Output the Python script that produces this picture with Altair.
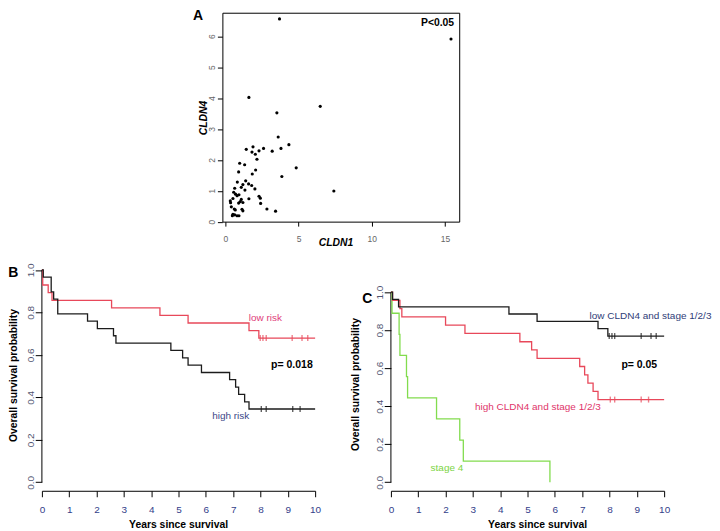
import altair as alt
import pandas as pd

FONT = "Liberation Sans"
BLACK = "#1c1c1c"
RED = "#e8485a"
GREEN = "#82dc4e"
XLAB = "#33408a"
YLAB = "#4f5470"

# ---------------- Panel A: scatter ----------------
cldn1 = [3.70, 15.41, 1.61, 6.48, 3.52, 3.61, 1.43, 1.89, 2.61, 1.82, 2.05, 2.30, 3.20, 3.80, 4.34,
         2.16, 0.98, 1.32, 4.84, 0.91, 2.07, 1.84, 3.86, 0.82, 1.39, 1.59, 1.20, 1.80, 1.09, 0.64,
         1.34, 2.02, 7.41, 0.57, 0.70, 0.93, 0.80, 0.52, 1.61, 2.30, 2.39, 0.34, 0.36, 0.91, 1.02,
         1.20, 2.41, 1.09, 0.41, 0.61, 0.68, 1.14, 1.20, 2.84, 3.43, 0.52, 0.48, 0.64, 0.80, 0.93]
cldn4 = [6.56, 5.91, 4.02, 3.73, 3.52, 2.74, 2.34, 2.42, 2.37, 2.25, 2.18, 2.29, 2.28, 2.37, 2.49,
         2.02, 1.89, 1.84, 1.74, 1.61, 1.67, 1.54, 1.46, 1.28, 1.32, 1.22, 1.20, 1.17, 1.11, 1.08,
         1.02, 1.06, 0.99, 0.95, 0.89, 0.87, 0.84, 0.75, 0.74, 0.82, 0.76, 0.67, 0.61, 0.60, 0.65,
         0.62, 0.59, 0.72, 0.48, 0.41, 0.38, 0.40, 0.35, 0.41, 0.34, 0.24, 0.19, 0.22, 0.19, 0.19]
a_note_text = ["P<0.05"]
a_note_x = [14.49]
a_note_y = [6.43]

# ---------------- Panel B: KM by risk ----------------
b_low_t = [0, 0.03, 0.23, 0.37, 2.55, 4.32, 5.35, 7.58, 7.94, 10]
b_low_s = [1.0, 0.929, 0.893, 0.857, 0.821, 0.786, 0.750, 0.714, 0.679, 0.679]
b_low_cens = [7.99, 8.09, 8.21, 9.16, 9.52, 9.73]
b_high_t = [0, 0.05, 0.34, 0.43, 0.58, 1.67, 2.03, 2.62, 2.71, 4.72, 5.15, 5.35, 5.84, 6.87,
            7.09, 7.20, 7.42, 7.58, 10]
b_high_s = [1.0, 0.966, 0.897, 0.862, 0.793, 0.759, 0.724, 0.690, 0.655, 0.621, 0.586, 0.552,
            0.517, 0.483, 0.448, 0.414, 0.379, 0.345, 0.345]
b_high_cens = [8.03, 8.21, 9.18, 9.45]
b_note_text = ["low risk", "high risk", "p= 0.018"]
b_note_t = [8.18, 6.91, 9.15]
b_note_s = [0.772, 0.313, 0.551]
b_note_col = ["#e0407a", "#3b4688", "#000000"]
b_note_bold = [0, 0, 1]

# ---------------- Panel C: KM by CLDN4 / stage ----------------
c_low_t = [0, 0.06, 0.28, 4.32, 5.35, 7.58, 7.94, 10]
c_low_s = [1.0, 0.962, 0.923, 0.885, 0.846, 0.808, 0.769, 0.769]
c_low_cens = [7.99, 8.09, 8.19, 9.16, 9.52, 9.71]
c_high_t = [0, 0.06, 0.33, 0.40, 2.00, 2.71, 4.72, 5.15, 5.35, 6.91, 7.09, 7.21, 7.40, 7.58, 10]
c_high_s = [1.0, 0.957, 0.913, 0.870, 0.826, 0.783, 0.739, 0.696, 0.652, 0.609, 0.565, 0.522,
            0.478, 0.435, 0.435]
c_high_cens = [8.03, 8.19, 9.16, 9.43]
c_st4_t = [0, 0.04, 0.30, 0.33, 0.57, 0.61, 1.67, 2.52, 2.65, 5.82]
c_st4_s = [1.0, 0.889, 0.778, 0.667, 0.556, 0.444, 0.333, 0.222, 0.111, 0.0]
c_note_text = ["low CLDN4 and stage 1/2/3", "high CLDN4 and stage 1/2/3", "stage 4", "p= 0.05"]
c_note_t = [9.50, 5.38, 2.05, 9.09]
c_note_s = [0.874, 0.397, 0.073, 0.615]
c_note_col = ["#2f3d78", "#e0356a", "#7cd444", "#000000"]
c_note_bold = [0, 0, 0, 1]


def steps(name, t, s):
    return pd.DataFrame({"t": t, "s": s, "grp": name, "i": list(range(len(t)))})


def cens(name, t, level):
    return pd.DataFrame({"t": t, "s": [level] * len(t), "grp": name})


# ---------------- build panel A ----------------
df_a = pd.DataFrame({"cldn1": cldn1, "cldn4": cldn4})
df_a_note = pd.DataFrame({"label": a_note_text, "cldn1": a_note_x, "cldn4": a_note_y})
ax_s = alt.Scale(domain=[-0.2, 15.97], nice=False, zero=False)
ay_s = alt.Scale(domain=[0, 6.76], nice=False, zero=False)
ax_ax = alt.Axis(values=[0, 5, 10, 15], format="d", title="CLDN1", domain=False,
                 tickSize=4.5, tickColor="black", labelPadding=8.4, labelFontSize=8.5,
                 labelColor="#666666", labelFlush=False, labelFont=FONT,
                 titleFont=FONT, titleFontSize=10.4, titleFontWeight="bold",
                 titleFontStyle="italic", titleColor="black", titleX=113.5, titleY=24.2,
                 titleAlign="center", titleBaseline="alphabetic", grid=False)
ay_ax = alt.Axis(values=[0, 1, 2, 3, 4, 5, 6], format="d", title="CLDN4", domain=False,
                 tickSize=5, tickColor="black", labelPadding=2.8, labelFontSize=8.5,
                 labelColor="#666666", labelAngle=270, labelAlign="center",
                 labelBaseline="alphabetic", labelFont=FONT,
                 titleFont=FONT, titleFontSize=10.4, titleFontWeight="bold",
                 titleFontStyle="italic", titleColor="black", titleAngle=270,
                 titleX=-16, titleY=105, titleAlign="center", titleBaseline="alphabetic",
                 grid=False)
pts = alt.Chart(df_a).mark_circle(size=10, color="black", opacity=1).encode(
    x=alt.X("cldn1:Q", scale=ax_s, axis=ax_ax),
    y=alt.Y("cldn4:Q", scale=ay_s, axis=ay_ax),
)
pnote = alt.Chart(df_a_note).mark_text(font=FONT, fontSize=10.4, fontWeight="bold",
                                       color="black", align="center", baseline="middle").encode(
    x=alt.X("cldn1:Q", scale=ax_s, axis=ax_ax),
    y=alt.Y("cldn4:Q", scale=ay_s, axis=ay_ax),
    text="label:N",
)
panel_a = alt.layer(pts, pnote).properties(
    width=237.5, height=209.5,
    view=alt.ViewBackground(stroke="black", strokeWidth=1),
    title=alt.TitleParams("A", anchor="start", frame="group", dx=-29.5, dy=21.5, offset=0,
                          fontSize=14, fontWeight="bold", baseline="alphabetic",
                          font=FONT, color="black"),
)

spacer = alt.Chart(pd.DataFrame({"v": [0]})).mark_point(opacity=0, size=1).encode(
    x=alt.X("v:Q", axis=None), y=alt.Y("v:Q", axis=None)
).properties(width=104.8, height=209.5)


# ---------------- KM panel builder ----------------
def km_panel(lines, cdf, notes, ydom, colors, letter, ldx, ldy, ytx, yty, xtx):
    xs = alt.Scale(domain=[0, 10], nice=False, zero=False)
    ys = alt.Scale(domain=ydom, nice=False, zero=False)
    xax = alt.Axis(values=list(range(11)), format="d", title="Years since survival",
                   domain=True, domainColor="black", domainWidth=1,
                   tickSize=6, tickColor="black", labelPadding=8, labelFontSize=10,
                   labelColor=XLAB, labelFlush=False, labelOverlap=False, labelFont=FONT,
                   titleFont=FONT, titleFontSize=10.4, titleFontWeight="bold",
                   titleColor="black", titleX=xtx, titleY=37.3, titleAlign="center",
                   titleBaseline="alphabetic", grid=False)
    yax = alt.Axis(values=[0, 0.2, 0.4, 0.6, 0.8, 1.0], format=".1f",
                   title="Overall survival probability", domain=False,
                   tickSize=6.7, tickColor="black", labelPadding=1.4, labelFontSize=10,
                   labelColor=YLAB, labelAngle=270, labelAlign="center",
                   labelBaseline="alphabetic", labelFlush=False, labelFont=FONT,
                   titleFont=FONT, titleFontSize=10.4, titleFontWeight="bold",
                   titleColor="black", titleAngle=270, titleX=ytx, titleY=yty,
                   titleAlign="center", titleBaseline="alphabetic", grid=False)
    cs = alt.Scale(domain=list(colors.keys()), range=list(colors.values()))
    X = lambda f: alt.X(f, scale=xs, axis=xax)
    Y = lambda f: alt.Y(f, scale=ys, axis=yax)
    line = alt.Chart(lines).mark_line(interpolate="step-after", strokeWidth=1.3).encode(
        x=X("t:Q"), y=Y("s:Q"),
        color=alt.Color("grp:N", scale=cs, legend=None),
        order="i:Q",
    )
    ticks = alt.Chart(cdf).mark_tick(orient="vertical", size=6, thickness=1.4).encode(
        x=X("t:Q"), y=Y("s:Q"),
        color=alt.Color("grp:N", scale=cs, legend=None),
    )
    yline = alt.Chart(pd.DataFrame({"t": [0], "lo": [0.0], "hi": [1.0]})).mark_rule(
        color="black", strokeWidth=1).encode(x=X("t:Q"), y=Y("lo:Q"), y2="hi:Q")
    tplain = alt.Chart(notes[notes["bold"] == 0]).mark_text(
        font=FONT, fontSize=10, align="center", baseline="middle").encode(
        x=X("t:Q"), y=Y("s:Q"), text="label:N", color=alt.Color("col:N", scale=None))
    tbold = alt.Chart(notes[notes["bold"] == 1]).mark_text(
        font=FONT, fontSize=10.5, fontWeight="bold", align="center", baseline="middle").encode(
        x=X("t:Q"), y=Y("s:Q"), text="label:N", color=alt.Color("col:N", scale=None))
    return alt.layer(yline, line, ticks, tplain, tbold).resolve_scale(color="independent").properties(
        width=274, height=230,
        title=alt.TitleParams(letter, anchor="start", frame="group", dx=ldx, dy=ldy, offset=0,
                              fontSize=14, fontWeight="bold", baseline="alphabetic",
                              font=FONT, color="black"),
    )


b_lines = pd.concat([steps("low", b_low_t, b_low_s), steps("high", b_high_t, b_high_s)])
b_cens = pd.concat([cens("low", b_low_cens, b_low_s[-1]), cens("high", b_high_cens, b_high_s[-1])])
b_notes = pd.DataFrame({"label": b_note_text, "t": b_note_t, "s": b_note_s,
                        "col": b_note_col, "bold": b_note_bold})
panel_b = km_panel(b_lines, b_cens, b_notes, [-0.04, 1.04], {"low": RED, "high": BLACK},
                   "B", -33.7, 29.3, -25.7, 114, 136.6)

c_lines = pd.concat([steps("stage4", c_st4_t, c_st4_s), steps("high", c_high_t, c_high_s),
                     steps("low", c_low_t, c_low_s)])
c_cens = pd.concat([cens("low", c_low_cens, c_low_s[-1]), cens("high", c_high_cens, c_high_s[-1])])
c_notes = pd.DataFrame({"label": c_note_text, "t": c_note_t, "s": c_note_s,
                        "col": c_note_col, "bold": c_note_bold})
panel_c = km_panel(c_lines, c_cens, c_notes, [-0.0446, 1.1615],
                   {"stage4": GREEN, "high": RED, "low": BLACK},
                   "C", -28.7, 55.3, -32.5, 123, 146.6)

row1 = alt.hconcat(spacer, panel_a, spacing=76, bounds="flush")
row2 = alt.hconcat(panel_b, panel_c, spacing=76, bounds="flush")
chart = alt.vconcat(row1, row2, spacing=12.4, padding=0)
chart = chart.configure(font=FONT).configure_view(stroke=None).configure_axis(grid=False)
chart.save("out.html", embed_options={"renderer": "svg", "actions": False})
